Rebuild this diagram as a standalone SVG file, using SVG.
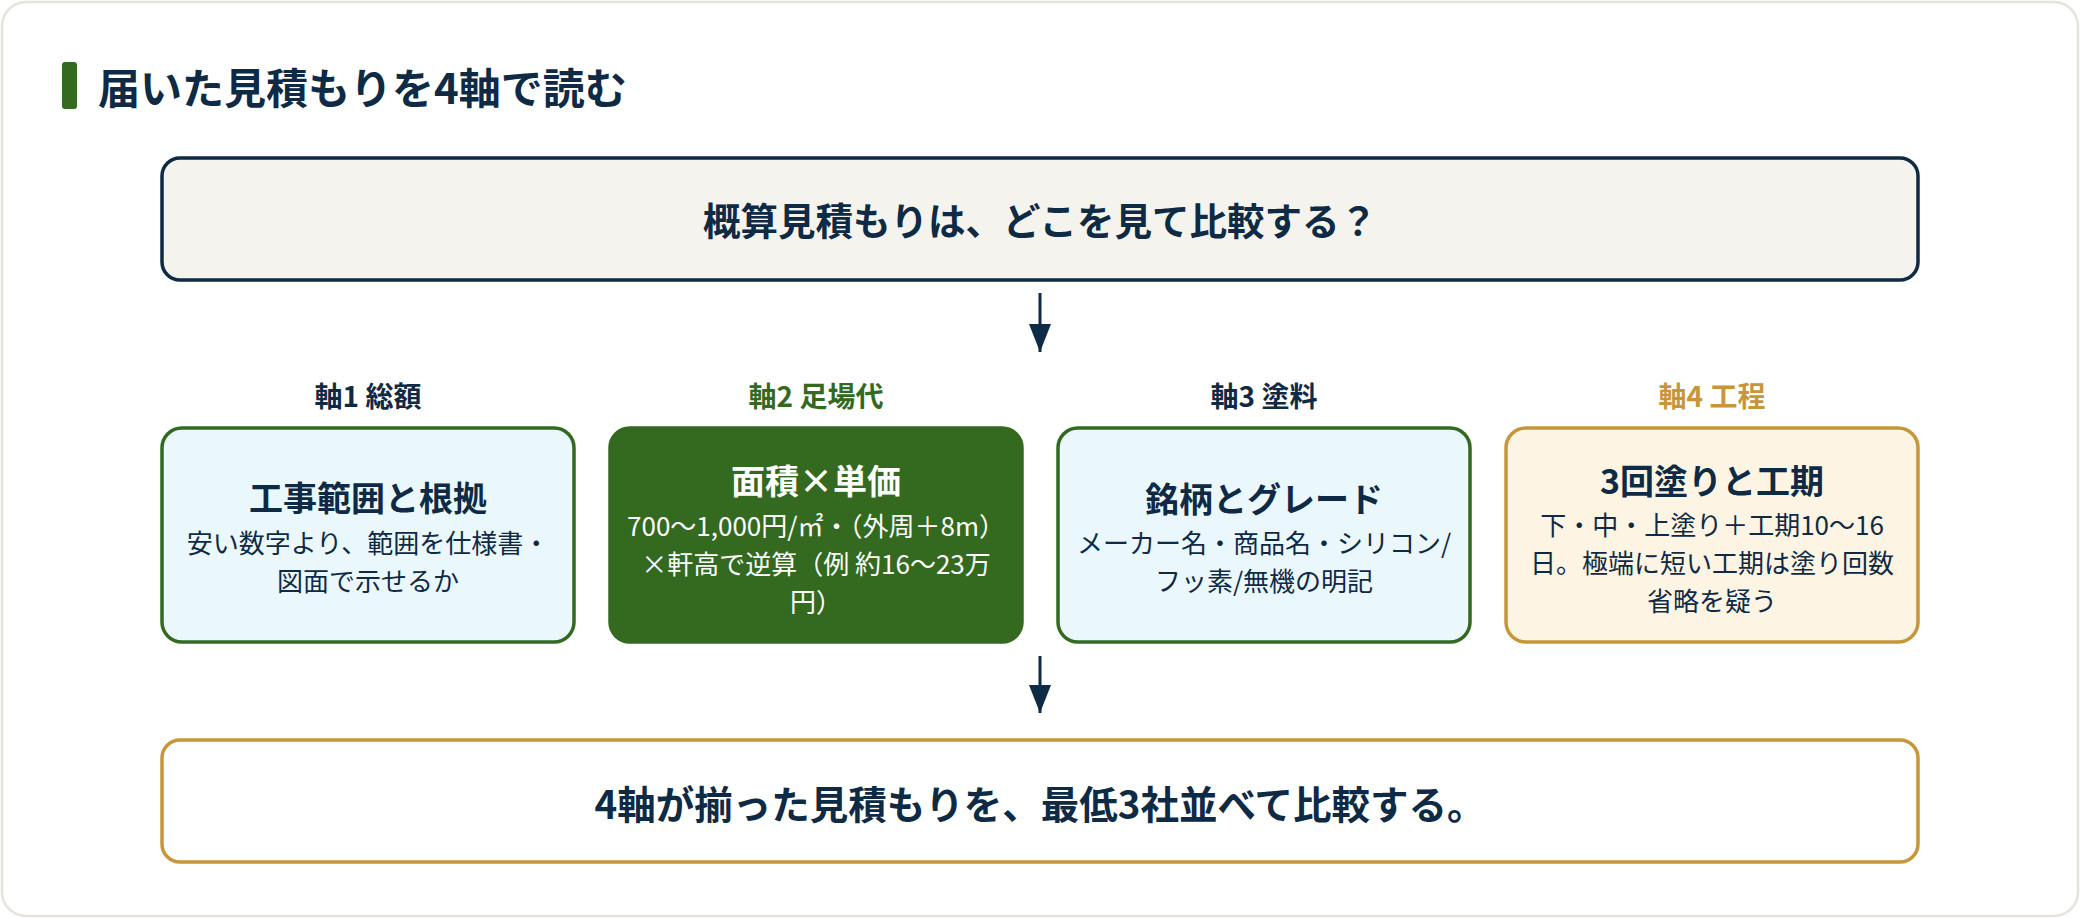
<svg xmlns="http://www.w3.org/2000/svg" width="2080" height="918" viewBox="0 0 2080 918">
  <defs>
    <style>
      text { font-family: "Noto Sans CJK JP", "Noto Sans", sans-serif; }
      .ttl { font-size: 42px; font-weight: 700; fill: #0f2a44; }
      .big { font-size: 37.5px; font-weight: 700; fill: #0f2a44; text-anchor: middle; }
      .big2 { font-size: 38.5px; font-weight: 700; fill: #0f2a44; text-anchor: middle; }
      .ax { font-size: 28px; font-weight: 700; text-anchor: middle; }
      .bt { font-size: 34px; font-weight: 700; text-anchor: middle; fill: #0f2a44; }
      .bd { font-size: 26px; font-weight: 400; text-anchor: middle; fill: #0f2a44; }
      .w { fill: #ffffff; }
      .navy { fill: #0f2a44; }
      .green { fill: #336a20; }
      .gold { fill: #c8963a; }
      .conn { stroke: #0f2a44; stroke-width: 3; fill: none; }
    </style>
    <marker id="ah" viewBox="0 0 28 22" refX="28" refY="11" markerWidth="28" markerHeight="22" markerUnits="userSpaceOnUse" orient="auto">
      <path d="M0,0 L28,11 L0,22 Z" fill="#0f2a44"/>
    </marker>
  </defs>

  <rect x="0" y="0" width="2080" height="918" fill="#ffffff"/>
  <rect x="2" y="2" width="2076" height="914" rx="24" ry="24" fill="#ffffff" stroke="#e5e3da" stroke-width="2.5"/>

  <g id="title">
    <rect x="62" y="62" width="15" height="47" rx="3" fill="#336a20"/>
    <text class="ttl" x="98" y="104">届いた見積もりを4軸で読む</text>
  </g>

  <g id="question">
    <rect x="162" y="158" width="1756" height="122" rx="18" fill="#f5f3ee" stroke="#0f2a44" stroke-width="3.5"/>
    <text class="big" x="1040" y="235">概算見積もりは、どこを見て比較する？</text>
  </g>

  <g id="axis1">
    <text class="ax navy" x="368" y="407">軸1 総額</text>
    <rect x="162" y="428" width="412" height="214" rx="20" fill="#eaf7fd" stroke="#336a20" stroke-width="3.5"/>
    <text class="bt" x="368" y="511">工事範囲と根拠</text>
    <text class="bd" x="368" y="553">安い数字より、範囲を仕様書・</text>
    <text class="bd" x="368" y="591">図面で示せるか</text>
  </g>

  <g id="axis2">
    <text class="ax green" x="816" y="407">軸2 足場代</text>
    <rect x="610" y="428" width="412" height="214" rx="20" fill="#336a20" stroke="#336a20" stroke-width="3.5"/>
    <text class="bt w" x="816" y="494">面積×単価</text>
    <text class="bd w" x="816" y="536">700〜1,000円/㎡・（外周＋8m）</text>
    <text class="bd w" x="816" y="574">×軒高で逆算（例 約16〜23万</text>
    <text class="bd w" x="816" y="612">円）</text>
  </g>

  <g id="axis3">
    <text class="ax navy" x="1264" y="407">軸3 塗料</text>
    <rect x="1058" y="428" width="412" height="214" rx="20" fill="#eaf7fd" stroke="#336a20" stroke-width="3.5"/>
    <text class="bt" x="1264" y="512">銘柄とグレード</text>
    <text class="bd" x="1264" y="553">メーカー名・商品名・シリコン/</text>
    <text class="bd" x="1264" y="591">フッ素/無機の明記</text>
  </g>

  <g id="axis4">
    <text class="ax gold" x="1712" y="407">軸4 工程</text>
    <rect x="1506" y="428" width="412" height="214" rx="20" fill="#fdf4e3" stroke="#c8963a" stroke-width="3.5"/>
    <text class="bt" x="1712" y="494">3回塗りと工期</text>
    <text class="bd" x="1712" y="535">下・中・上塗り＋工期10〜16</text>
    <text class="bd" x="1712" y="573">日。極端に短い工期は塗り回数</text>
    <text class="bd" x="1712" y="611">省略を疑う</text>
  </g>

  <g id="conclusion">
    <rect x="162" y="740" width="1756" height="122" rx="18" fill="#ffffff" stroke="#c8963a" stroke-width="3.5"/>
    <text class="big2" x="1040" y="819">4軸が揃った見積もりを、最低3社並べて比較する。</text>
  </g>

  <g id="connectors">
    <line class="conn" x1="1040" y1="293" x2="1040" y2="352" marker-end="url(#ah)"/>
    <line class="conn" x1="1040" y1="656" x2="1040" y2="713" marker-end="url(#ah)"/>
  </g>
</svg>
